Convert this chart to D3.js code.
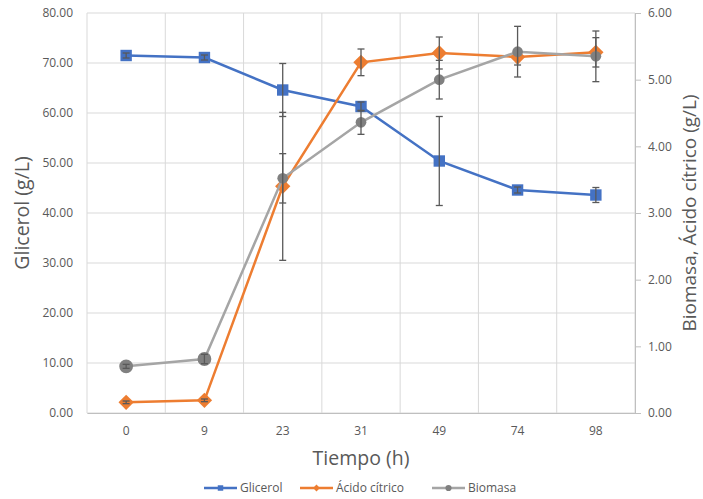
<!DOCTYPE html>
<html>
<head>
<meta charset="utf-8">
<script src="https://cdn.jsdelivr.net/npm/d3@7"></script>
<style>
  body { margin: 0; background: #fff; }
  text { font-family: "Open Sans", "Liberation Sans", sans-serif; }
</style>
</head>
<body>
<svg id="chart"></svg>
<script>
const width = 703;
const height = 499;

// data
const tiempos = ["0", "9", "23", "31", "49", "74", "98"];
const glicerol = [71.5, 71.1, 64.6, 61.3, 50.4, 44.6, 43.6];
const glicerolErr = [0.5, 0.5, 5.3, 0.9, 8.9, 0.6, 1.5];
const acido = [0.16, 0.19, 3.4, 5.26, 5.4, 5.34, 5.41];
const acidoErr = [0.02, 0.02, 1.11, 0.2, 0.24, 0.12, 0.22];
const biomasa = [0.7, 0.81, 3.52, 4.36, 5.0, 5.42, 5.35];
const biomasaErr = [0.03, 0.07, 0.37, 0.18, 0.29, 0.38, 0.38];
const leftTicks = [0, 10, 20, 30, 40, 50, 60, 70, 80];
const rightTicks = [0, 1, 2, 3, 4, 5, 6];

const margin = { top: 13, right: 68, bottom: 86, left: 87 };
const svg = d3.select("#chart").attr("width", width).attr("height", height);

const x = d3.scaleBand().domain(tiempos).range([margin.left, width - margin.right]).padding(0);
const yL = d3.scaleLinear().domain([0, 80]).range([height - margin.bottom, margin.top]);
const yR = d3.scaleLinear().domain([0, 6]).range([height - margin.bottom, margin.top]);
const cx = (d) => x(d) + x.bandwidth() / 2;

const grid = svg.append("g");
grid.selectAll(".hgrid")
  .data(leftTicks)
  .enter()
  .append("line")
  .attr("x1", margin.left)
  .attr("x2", width - margin.right)
  .attr("y1", (d) => yL(d))
  .attr("y2", (d) => yL(d))
  .attr("stroke", "#d9d9d9")
  .attr("stroke-width", 1);
grid.selectAll(".vgrid")
  .data(tiempos.concat(["end"]))
  .enter()
  .append("line")
  .attr("x1", (d, i) => margin.left + i * x.bandwidth())
  .attr("x2", (d, i) => margin.left + i * x.bandwidth())
  .attr("y1", margin.top)
  .attr("y2", height - margin.bottom)
  .attr("stroke", "#d9d9d9")
  .attr("stroke-width", 1);

// left axis
const leftAxis = svg.append("g")
  .attr("transform", `translate(${margin.left},0)`)
  .call(d3.axisLeft(yL).tickValues(leftTicks).tickSize(0).tickPadding(14).tickFormat(d3.format(".2f")));
leftAxis.select(".domain").remove();
leftAxis.selectAll("text").attr("fill", "#595959").style("font-size", "12px");

// right axis
const rightAxis = svg.append("g")
  .attr("transform", `translate(${width - margin.right},0)`)
  .call(d3.axisRight(yR).tickValues(rightTicks).tickSize(6).tickPadding(7).tickFormat(d3.format(".2f")));
rightAxis.select(".domain").attr("stroke", "#bfbfbf");
rightAxis.selectAll(".tick line").attr("stroke", "#bfbfbf");
rightAxis.selectAll("text").attr("fill", "#595959").style("font-size", "12px");

// bottom axis
const bottomAxis = svg.append("g")
  .attr("transform", `translate(0,${height - margin.bottom})`)
  .call(d3.axisBottom(x).tickSize(0).tickPadding(13));
bottomAxis.select(".domain").attr("stroke", "#bfbfbf");
bottomAxis.selectAll("text").attr("fill", "#595959").style("font-size", "12px");

// axis titles
svg.append("text")
  .attr("transform", `translate(29,${(margin.top + height - margin.bottom) / 2}) rotate(-90)`)
  .attr("text-anchor", "middle")
  .attr("fill", "#595959")
  .style("font-size", "19.5px")
  .text("Glicerol (g/L)");
svg.append("text")
  .attr("transform", `translate(696,${(margin.top + height - margin.bottom) / 2}) rotate(-90)`)
  .attr("text-anchor", "middle")
  .attr("fill", "#595959")
  .style("font-size", "19px")
  .text("Biomasa, Ácido cítrico (g/L)");
svg.append("text")
  .attr("x", (margin.left + width - margin.right) / 2)
  .attr("y", 465)
  .attr("text-anchor", "middle")
  .attr("fill", "#595959")
  .style("font-size", "19.5px")
  .text("Tiempo (h)");

const series = [
  { name: "Glicerol", values: glicerol, err: glicerolErr, y: yL, color: "#4472c4", mark: "#4472c4", symbol: d3.symbolSquare, size: 130 },
  { name: "Ácido cítrico", values: acido, err: acidoErr, y: yR, color: "#ed7d31", mark: "#ed7d31", symbol: d3.symbolDiamond2, size: 150 },
  { name: "Biomasa", values: biomasa, err: biomasaErr, y: yR, color: "#a5a5a5", mark: "#808080", symbol: d3.symbolCircle, size: 90 },
];

series.forEach((s) => {
  const pts = tiempos.map((t, i) => ({ t, v: s.values[i], e: s.err[i] }));
  const line = d3.line().x((d) => cx(d.t)).y((d) => s.y(d.v));
  const g = svg.append("g");
  g.append("path")
    .datum(pts)
    .attr("d", line)
    .attr("fill", "none")
    .attr("stroke", s.color)
    .attr("stroke-width", 2.5);
  g.selectAll(".mark")
    .data(pts)
    .enter()
    .append("path")
    .attr("d", d3.symbol().type(s.symbol).size((d, i) => (s.name === "Biomasa" && i < 2 ? 150 : s.size)))
    .attr("transform", (d) => `translate(${cx(d.t)},${s.y(d.v)})`)
    .attr("fill", s.mark);
  const eb = g.selectAll(".err").data(pts).enter().append("g").attr("stroke", "#595959").attr("stroke-width", 1.3);
  eb.append("line")
    .attr("x1", (d) => cx(d.t))
    .attr("x2", (d) => cx(d.t))
    .attr("y1", (d) => s.y(d.v - d.e))
    .attr("y2", (d) => s.y(d.v + d.e));
  [-1, 1].forEach((k) => {
    eb.append("line")
      .attr("x1", (d) => cx(d.t) - 3.5)
      .attr("x2", (d) => cx(d.t) + 3.5)
      .attr("y1", (d) => s.y(d.v + k * d.e))
      .attr("y2", (d) => s.y(d.v + k * d.e));
  });
});

// legend
const legendX = [204, 300, 432];
const lg = svg.append("g").attr("transform", "translate(0,488)");
series.forEach((s, i) => {
  const item = lg.append("g").attr("transform", `translate(${legendX[i]},0)`);
  item.append("line").attr("x1", 0).attr("x2", 33).attr("stroke", s.color).attr("stroke-width", 2.5);
  item.append("path")
    .attr("d", d3.symbol().type(s.symbol).size(30))
    .attr("transform", "translate(16.5,0)")
    .attr("fill", s.mark);
  item.append("text")
    .attr("x", 36)
    .attr("dy", "0.35em")
    .attr("fill", "#595959")
    .style("font-size", "12px")
    .text(s.name);
});
</script>
</body>
</html>
